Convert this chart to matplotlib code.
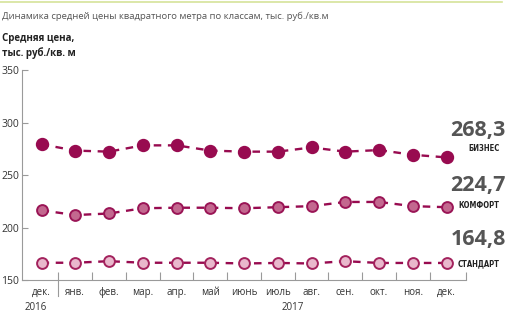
"""
Average price per square metre by class, Dec 2016 - Dec 2017.
"""
import matplotlib.pyplot as plt
from matplotlib.lines import Line2D

plt.rcParams['font.family'] = ['Open Sans', 'DejaVu Sans']

months = ['дек.', 'янв.', 'фев.', 'мар.', 'апр.', 'май', 'июнь',
          'июль', 'авг.', 'сен.', 'окт.', 'ноя.', 'дек.']
business = [279.5, 273.5, 272.5, 278.5, 278.5, 273.5, 272.5,
            272.5, 276.5, 272.5, 274, 269.5, 267]
comfort = [216.5, 212, 213.5, 218.5, 219, 219, 218.5,
           219.5, 220.5, 224.5, 224.5, 220.5, 219.5]
standard = [166.5, 166.5, 168, 166.5, 166.5, 166.5, 165.8,
            166.3, 165.8, 168, 166.3, 166.3, 166.3]
last_values = ['268,3', '224,7', '164,8']
class_names = ['БИЗНЕС', 'КОМФОРТ', 'СТАНДАРТ']
years = ['2016', '2017']

dark = '#980b50'
styles = [
    dict(mfc=dark, mec=dark, ms=8.2),
    dict(mfc='#c3688f', mec='#9a1556', ms=7.8),
    dict(mfc='#e9b8cc', mec='#a3225d', ms=7.8),
]
series = [business, comfort, standard]
# vertical offsets (data units) of the right-hand labels from the last point
value_offsets = [25.5, 21, 22]
name_offsets = [8.5, 2, -0.5]

fig = plt.figure(figsize=(5.15, 3.23), dpi=100)
ax = fig.add_axes([0.0427, 0.133, 0.863, 0.649])

x = list(range(len(months)))
for vals, st in zip(series, styles):
    ax.plot(x, vals, linestyle=(0, (3.2, 2.8)), color=dark, linewidth=1.7,
            marker='o', mew=1.4, zorder=3, **st)

ax.set_xlim(-0.58, 12.59)
ax.set_ylim(150, 350)
ax.set_yticks([150, 200, 250, 300, 350])
ax.set_xticks(x)
ax.set_xticklabels(months)
ax.set_xticks([i + 0.5 for i in range(12)] + [12.59], minor=True)

for side in ['top', 'right']:
    ax.spines[side].set_visible(False)
for side in ['left', 'bottom']:
    ax.spines[side].set_color('#9a9a9a')
    ax.spines[side].set_linewidth(0.8)

ax.tick_params(axis='y', direction='in', length=4, width=0.8, color='#9a9a9a',
               labelsize=7.5, labelcolor='#333333', pad=2)
ax.tick_params(axis='x', which='major', length=0, labelsize=7,
               labelcolor='#333333', pad=5)
ax.tick_params(axis='x', which='minor', direction='in', length=6, width=0.8,
               color='#9a9a9a')
# longer tick separating the years
ax.add_line(Line2D([0.5, 0.5], [150, 135], color='#9a9a9a', lw=0.8,
                   clip_on=False))

# year labels
ax.text(-0.18, 123.5, years[0], ha='center', va='center', fontsize=7,
        color='#333333')
ax.text(7.45, 123.5, years[1], ha='center', va='center', fontsize=7,
        color='#333333')

# last values and class names at the right
for val, name, ref, dv, dn in zip(last_values, class_names, series,
                                  value_offsets, name_offsets):
    y = ref[-1]
    fig.text(0.982, ax.transData.transform((0, y + dv))[1] / fig.bbox.height,
             val, ha='right', va='center', fontsize=15.5, fontweight='bold',
             color='#555555')
    fig.text(0.970, ax.transData.transform((0, y + dn))[1] / fig.bbox.height,
             name, ha='right', va='center', fontsize=5.5, fontweight='bold',
             color='#222222', family='DejaVu Sans', fontstretch='condensed')

# header
fig.add_artist(Line2D([0.0, 0.975], [0.994, 0.994], color='#d6e39a', lw=1.2))
fig.text(0.004, 0.950, 'Динамика средней цены квадратного метра по классам, тыс. руб./кв.м',
         ha='left', va='center', fontsize=6.8, color='#555555')
fig.text(0.004, 0.858, 'Средняя цена,\nтыс. руб./кв. м', ha='left',
         va='center', fontsize=7, fontweight='bold', color='#222222',
         linespacing=1.3)

fig.savefig('out.png', dpi=100)
